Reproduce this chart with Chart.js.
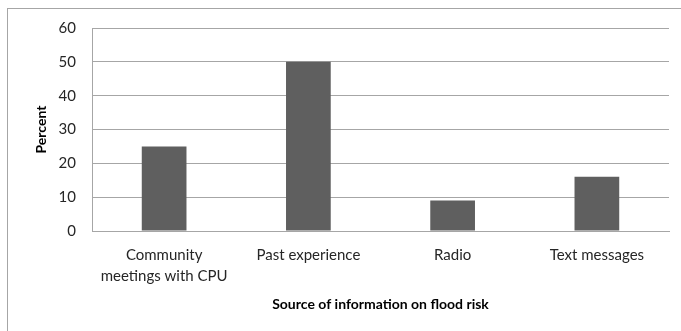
<!DOCTYPE html>
<html><head><meta charset="utf-8">
<script src="https://cdn.jsdelivr.net/npm/chart.js@4/dist/chart.umd.min.js"></script>
<style>
html,body{margin:0;padding:0;overflow:hidden;background:#fff;width:681px;height:331px;}
#frame{position:absolute;left:7px;top:8px;width:700px;height:400px;border:1px solid #a6a6a6;}
#wrap{position:absolute;left:0;top:0;width:681px;height:331px;}
</style></head>
<body>
<div id="frame"></div>
<div id="wrap"><canvas id="c" width="681" height="331"></canvas></div>
<script>
const categories = [["Community","meetings with CPU"],"Past experience","Radio","Text messages"];
const percentValues = [25, 50, 9, 16];
const yTicks = [0,10,20,30,40,50,60];
const xTitle = "Source of information on flood risk";
const yTitle = "Percent";

const FONT = "Lato, 'Open Sans', sans-serif";
new Chart(document.getElementById('c'), {
  type: 'bar',
  data: {
    labels: categories,
    datasets: [{ data: percentValues, backgroundColor: '#5f5f5f', borderWidth: 0,
      categoryPercentage: 1.0, barPercentage: 0.31 }]
  },
  options: {
    responsive: false, animation: false,
    layout: { padding: { left: 0, top: 28, right: 12, bottom: 0 } },
    plugins: { legend: { display: false }, tooltip: { enabled: false } },
    scales: {
      x: {
        grid: { display: false, drawTicks: false },
        border: { display: true, color: '#a6a6a6', width: 1 },
        ticks: { color: '#262626', font: { family: FONT, size: 15, lineHeight: 1.45 }, padding: 13, maxRotation: 0, autoSkip: false },
        title: { display: true, text: xTitle, color: '#000', font: { family: FONT, size: 14, weight: 'bold' }, padding: { top: 4, bottom: 18 } },
        afterFit: s => { s.height = 100; }
      },
      y: {
        min: 0, max: 60,
        afterBuildTicks: s => { s.ticks = yTicks.map(v => ({ value: v })); },
        grid: { color: '#a6a6a6', drawTicks: false, lineWidth: 1 },
        border: { display: true, color: '#a6a6a6', width: 1 },
        ticks: { color: '#262626', font: { family: FONT, size: 15 }, padding: 16 },
        title: { display: true, text: yTitle, color: '#000', font: { family: FONT, size: 14, weight: 'bold' }, padding: { top: 33, bottom: 0 } },
        afterFit: s => { s.width = 92; }
      }
    }
  }
});
</script>
</body></html>
